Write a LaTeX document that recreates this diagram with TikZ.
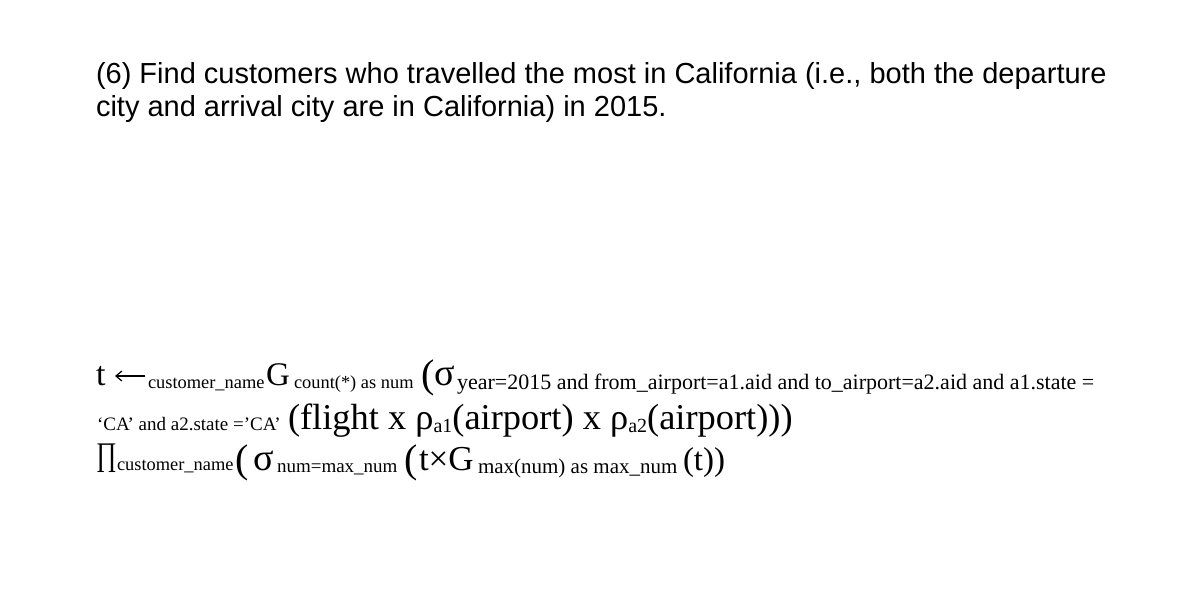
\documentclass[tikz,border=0pt]{standalone}
\usepackage{fontspec}
\usetikzlibrary{arrows.meta}
\setmainfont{Liberation Serif}
\newfontfamily\headfont{Liberation Sans}
\newcommand{\fsz}[1]{\fontsize{#1}{#1}\selectfont}
\begin{document}
\begin{tikzpicture}[x=1pt,y=-1pt,
  txt/.style={inner sep=0pt,outer sep=0pt,anchor=base west,text=black},
  head/.style={txt,font=\headfont\fsz{29}},
  big/.style={txt,font=\fsz{34}},
  paren/.style={txt,font=\fsz{40}},
  sig/.style={txt,font=\fsz{38}},
  small/.style={txt,font=\fsz{18.4}},
  cond/.style={txt,font=\fsz{22}},
  assign/.style={line width=1.3pt,black,-{Straight Barb[length=6pt,width=10pt,line width=1.2pt]}}]
\useasboundingbox (0,0) rectangle (1202,600);
\fill[white] (0,0) rectangle (1202,600);
% heading
\node[head] (h1) at (96,83) {(6) Find customers who travelled the most in California (i.e., both the departure};
\node[head] (h2) at (96,116) {city and arrival city are in California) in 2015.};
% line 1
\node[big] (t1) at (96,385) {t};
\coordinate (arrS) at (145,376);
\coordinate (arrE) at (115,376);
\draw[assign] (arrS) -- (arrE);
\node[small] (cn1) at (148,388) {customer\_name};
\node[big,font=\fsz{33}] (g1) at (266,385) {G};
\node[small] (cnt) at (294,388) {count(*) as num};
\node[paren] (p1) at (421,387) {(};
\node[sig] (s1) at (434,385) {σ};
\node[cond] (c1) at (457,389) {year=2015 and from\_airport=a1.aid and to\_airport=a2.aid and a1.state =};
% line 2
\node[small,font=\fsz{19}] (ca) at (97,430) {‘CA’ and a2.state =’CA’};
\node[big,font=\fsz{36.4}] (fl) at (288,429) {(flight x ρ\raisebox{-3pt}{\fsz{20}a1}(airport) x ρ\raisebox{-3pt}{\fsz{20}a2}(airport)))};
% line 3
\node[big,font=\fsz{33}] (pi) at (96,465) {\scalebox{0.76}[1]{∏}};
\node[small] (cn3) at (117,470) {customer\_name};
\node[paren] (p3) at (235,472) {(};
\node[sig] (s3) at (253,470) {σ};
\node[small,font=\fsz{19}] (nm) at (277,472) {num=max\_num};
\node[paren] (p4) at (404,472) {(};
\node[big,font=\fsz{35}] (tg) at (419,470) {t×G};
\node[small,font=\fsz{21}] (mx) at (478,473) {max(num) as max\_num};
\node[big,font=\fsz{33}] (tt) at (683,470) {(t))};
\end{tikzpicture}
\end{document}
